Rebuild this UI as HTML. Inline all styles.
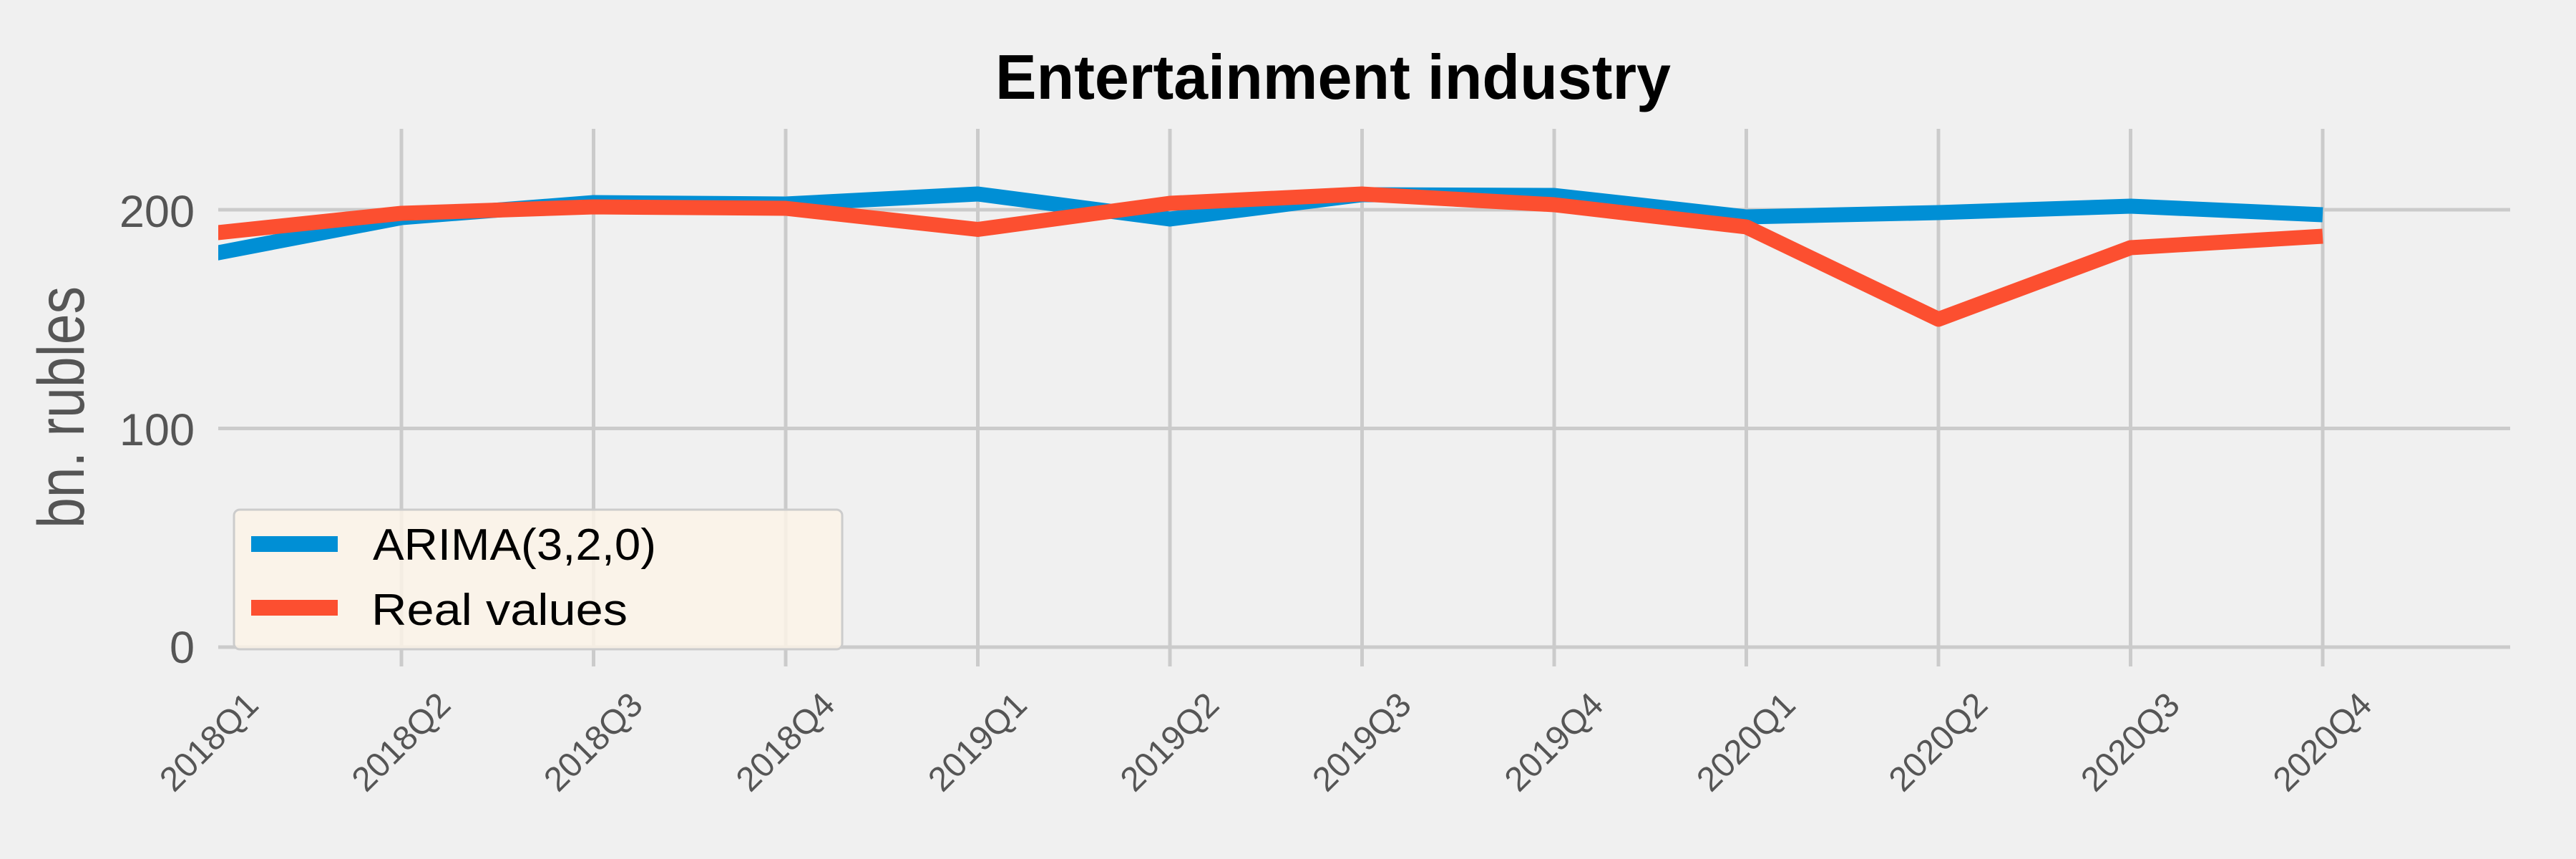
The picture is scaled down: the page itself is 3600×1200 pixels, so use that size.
<!DOCTYPE html>
<html><head><meta charset="utf-8"><style>
html,body{margin:0;padding:0;background:#f0f0f0;}
svg{display:block;}
</style></head><body>
<svg width="3600" height="1200" viewBox="0 0 3600 1200" xmlns="http://www.w3.org/2000/svg">
<rect width="3600" height="1200" fill="#f0f0f0"/>
<defs><clipPath id="c"><rect x="305" y="0" width="3203" height="1200"/></clipPath></defs>
<g stroke="#cbcbcb" stroke-width="5">
<line x1="305" y1="293" x2="3508" y2="293"/>
<line x1="305" y1="598.5" x2="3508" y2="598.5"/>
<line x1="305" y1="904" x2="3508" y2="904"/>
<line x1="561" y1="180" x2="561" y2="931"/>
<line x1="829.5" y1="180" x2="829.5" y2="931"/>
<line x1="1098" y1="180" x2="1098" y2="931"/>
<line x1="1366.5" y1="180" x2="1366.5" y2="931"/>
<line x1="1635" y1="180" x2="1635" y2="931"/>
<line x1="1903.5" y1="180" x2="1903.5" y2="931"/>
<line x1="2172" y1="180" x2="2172" y2="931"/>
<line x1="2440.5" y1="180" x2="2440.5" y2="931"/>
<line x1="2709" y1="180" x2="2709" y2="931"/>
<line x1="2977.5" y1="180" x2="2977.5" y2="931"/>
<line x1="3246" y1="180" x2="3246" y2="931"/>
</g>
<g clip-path="url(#c)" fill="none" stroke-width="21" stroke-linejoin="round" stroke-linecap="butt">
<polyline stroke="#008fd5" points="292.5,355.4 561,304 829.5,283 1098,285 1366.5,271 1635,306 1903.5,272 2172,273 2440.5,303 2709,297 2977.5,288 3246,300"/>
<polyline stroke="#fc4f30" points="292.5,326.3 561,298 829.5,289 1098,291 1366.5,320.5 1635,284 1903.5,271 2172,286 2440.5,317 2709,446 2977.5,346 3246,330"/>
</g>
<text x="1863" y="138" font-family="Liberation Sans, sans-serif" font-weight="bold" font-size="88" text-anchor="middle" textLength="944" lengthAdjust="spacingAndGlyphs" fill="#000">Entertainment industry</text>
<g font-family="Liberation Sans, sans-serif" font-size="63" fill="#555" text-anchor="end">
<text x="272" y="317">200</text>
<text x="272" y="622">100</text>
<text x="272" y="926">0</text>
</g>
<text transform="translate(117,569) rotate(-90)" font-family="Liberation Sans, sans-serif" font-size="92" fill="#555" text-anchor="middle" textLength="338" lengthAdjust="spacingAndGlyphs">bn. rubles</text>
<g font-family="Liberation Sans, sans-serif" font-size="48" fill="#555" text-anchor="middle" dominant-baseline="central">
<text transform="translate(292.5,1037) rotate(-45)">2018Q1</text>
<text transform="translate(561,1037) rotate(-45)">2018Q2</text>
<text transform="translate(829.5,1037) rotate(-45)">2018Q3</text>
<text transform="translate(1098,1037) rotate(-45)">2018Q4</text>
<text transform="translate(1366.5,1037) rotate(-45)">2019Q1</text>
<text transform="translate(1635,1037) rotate(-45)">2019Q2</text>
<text transform="translate(1903.5,1037) rotate(-45)">2019Q3</text>
<text transform="translate(2172,1037) rotate(-45)">2019Q4</text>
<text transform="translate(2440.5,1037) rotate(-45)">2020Q1</text>
<text transform="translate(2709,1037) rotate(-45)">2020Q2</text>
<text transform="translate(2977.5,1037) rotate(-45)">2020Q3</text>
<text transform="translate(3246,1037) rotate(-45)">2020Q4</text>
</g>
<rect x="327" y="712" width="850" height="195" rx="8" ry="8" fill="#fbf3e8" fill-opacity="0.85" stroke="#cccccc" stroke-width="3"/>
<rect x="351" y="749" width="121" height="22" fill="#008fd5"/>
<rect x="351" y="838" width="121" height="22" fill="#fc4f30"/>
<g font-family="Liberation Sans, sans-serif" font-size="62" fill="#000">
<text x="521" y="782" textLength="396" lengthAdjust="spacingAndGlyphs">ARIMA(3,2,0)</text>
<text x="519" y="873" textLength="358" lengthAdjust="spacingAndGlyphs">Real values</text>
</g>
</svg>
</body></html>
